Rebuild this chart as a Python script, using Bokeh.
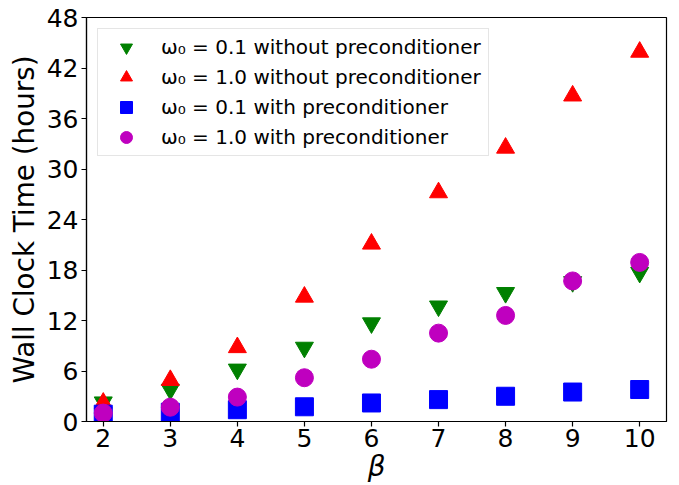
from bokeh.plotting import figure
from bokeh.models import Range1d, Legend, LegendItem
from bokeh.embed import file_html
from bokeh.resources import INLINE

beta = [2, 3, 4, 5, 6, 7, 8, 9, 10]
w01_without = [2.3, 3.8, 6.2, 8.8, 11.7, 13.7, 15.3, 16.6, 17.7]
w10_without = [2.2, 4.9, 8.8, 14.8, 21.1, 27.2, 32.5, 38.7, 43.9]
w01_with = [0.87, 1.1, 1.4, 1.75, 2.2, 2.6, 3.0, 3.5, 3.8]
w10_with = [1.0, 1.7, 2.9, 5.2, 7.4, 10.5, 12.6, 16.7, 18.9]

labels = [
    "ω₀ = 0.1 without preconditioner",
    "ω₀ = 1.0 without preconditioner",
    "ω₀ = 0.1 with preconditioner",
    "ω₀ = 1.0 with preconditioner",
]
x_ticks = [2, 3, 4, 5, 6, 7, 8, 9, 10]
y_ticks = [0, 6, 12, 18, 24, 30, 36, 42, 48]

FONT = "DejaVu Sans"

p = figure(width=679, height=485, output_backend="svg", toolbar_location=None,
           x_range=Range1d(1.75, 10.4), y_range=Range1d(0, 48),
           min_border_left=86, min_border_right=13, min_border_top=17,
           min_border_bottom=63)
p.background_fill_color = "white"
p.border_fill_color = "white"
p.outline_line_color = "black"
p.outline_line_width = 1.2
p.outline_line_alpha = 1
p.xgrid.grid_line_color = None
p.ygrid.grid_line_color = None

r1 = p.scatter(beta, w01_without, marker="inverted_triangle", size=18, color="green")
r2 = p.scatter(beta, w10_without, marker="triangle", size=18, color="red")
r3 = p.scatter(beta, w01_with, marker="square", size=18, color="blue")
r4 = p.scatter(beta, w10_with, marker="circle", size=18, color="#bf00bf")

for ax in (p.xaxis[0], p.yaxis[0]):
    ax.major_label_text_font = FONT
    ax.major_label_text_font_size = "25px"
    ax.major_label_text_color = "black"
    ax.axis_label_text_font = FONT
    ax.axis_label_text_font_size = "27.8px"
    ax.axis_label_text_color = "black"
    ax.axis_label_text_font_style = "normal"
    ax.major_tick_in = 0
    ax.major_tick_out = 5
    ax.major_tick_line_width = 1.2
    ax.minor_tick_line_color = None
    ax.axis_line_width = 1.2
    ax.major_label_standoff = 3

p.xaxis.ticker = x_ticks
p.yaxis.ticker = y_ticks
p.xaxis.axis_label = "β"
p.xaxis.axis_label_text_font_style = "italic"
p.xaxis.axis_label_standoff = 0
p.xaxis.major_label_standoff = 2
p.yaxis.axis_label = "Wall Clock Time (hours)"
p.yaxis.axis_label_standoff = 3

legend = Legend(items=[LegendItem(label=labels[0], renderers=[r1]),
                       LegendItem(label=labels[1], renderers=[r2]),
                       LegendItem(label=labels[2], renderers=[r3]),
                       LegendItem(label=labels[3], renderers=[r4])],
                location="top_left")
legend.margin = 11
legend.padding = 3
legend.glyph_width = 50
legend.glyph_height = 30
legend.spacing = 0
legend.label_standoff = 10
legend.label_width = 324
legend.label_height = 30
legend.label_text_font = FONT
legend.label_text_font_size = "20px"
legend.label_text_color = "black"
legend.border_line_color = "#cccccc"
legend.border_line_width = 1
legend.background_fill_color = "white"
legend.background_fill_alpha = 0.8
p.add_layout(legend, "center")

open("out.html", "w").write(file_html(p, INLINE))
